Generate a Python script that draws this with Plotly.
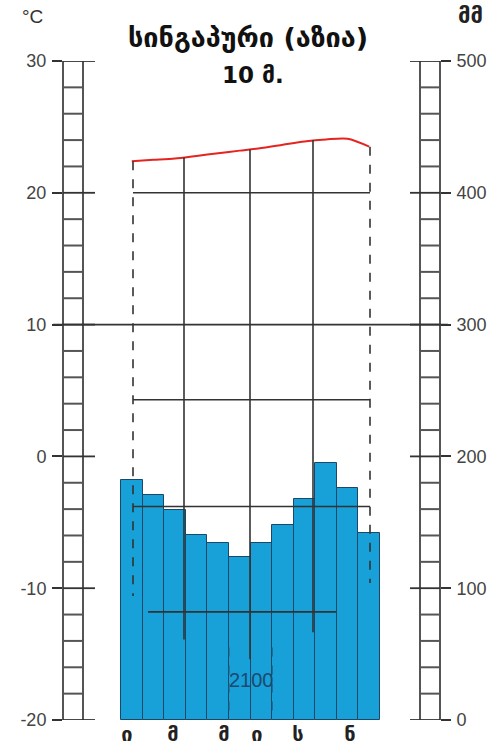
import plotly.graph_objects as go

# ---- data ----
month_index = [1, 2, 3, 4, 5, 6, 7, 8, 9, 10, 11, 12]
precip_mm = [182, 171, 159, 140, 134, 124, 134, 148, 168, 195, 176, 142]
temp_c = [22.4, 22.5, 22.6, 22.8, 23.0, 23.2, 23.4, 23.65, 23.9, 24.05, 24.1, 23.5]
month_labels = ["ი", "მ", "მ", "ი", "ს", "ნ"]
temp_ticks = [-20, -10, 0, 10, 20, 30]
precip_ticks = [0, 100, 200, 300, 400, 500]
title_line1 = "სინგაპური (აზია)"
title_line2 = "10 მ."
total_label = "2100"

# ---- layout geometry ----
W, H = 504, 746
L_PX, R_PX = 63, 440
T_PX, B_PX = 61, 720
PXU = 21.583  # px per month unit
X0 = 0.5 - (121 - L_PX) / PXU
X1 = 0.5 + (R_PX - 121) / PXU


def px2x(px):
    return 0.5 + (px - 121) / PXU


def px2paper(px):
    return (px - L_PX) / (R_PX - L_PX)


def py2paper(py):
    return (B_PX - py) / (B_PX - T_PX)


LINE = "#333333"
LADDER = "#555555"

fig = go.Figure()

fig.add_trace(go.Bar(
    x=month_index, y=precip_mm, width=1, yaxis="y2",
    marker=dict(color="#18a0d8", line=dict(color="#1d4766", width=1)),
    showlegend=False, hoverinfo="skip",
))

fig.add_trace(go.Scatter(
    x=month_index, y=temp_c, mode="lines", yaxis="y",
    line=dict(color="#e52421", width=2, shape="spline", smoothing=0.8),
    showlegend=False, hoverinfo="skip",
))

shapes = []


def seg(x0, y0, x1, y1, xref="x", yref="y", color=LINE, width=1.6, dash="solid"):
    shapes.append(dict(type="line", xref=xref, yref=yref, x0=x0, y0=y0, x1=x1, y1=y1,
                       line=dict(color=color, width=width, dash=dash), layer="above"))


# ladders
for px in (63, 83, 420, 440):
    seg(px2paper(px), -20, px2paper(px), 30, xref="paper", color=LADDER, width=2)
for t in range(-20, 31, 2):
    if t % 10 == 0:
        seg(px2paper(63), t, px2paper(95), t, xref="paper", color=LINE, width=1.8)
        seg(px2paper(410), t, px2paper(440), t, xref="paper", color=LINE, width=1.8)
    else:
        seg(px2paper(63), t, px2paper(83), t, xref="paper", color=LADDER, width=2)
        seg(px2paper(420), t, px2paper(440), t, xref="paper", color=LADDER, width=2)

# structural lines of the diagram
xl, xr = px2x(133), px2x(370)
seg(px2paper(53), 10, px2paper(448), 10, xref="paper", width=1.6)
for yv in (20, 4.3, -3.8):
    seg(xl, yv, xr, yv)
seg(px2x(148), -11.8, px2x(336), -11.8)
seg(xl, 22.4, xl, -10.6, dash="dash", width=1.6)
seg(xr, 23.5, xr, -9.6, dash="dash", width=1.6)
seg(px2x(184), 22.7, px2x(184), -13.9)
seg(px2x(250), 23.3, px2x(250), -15.4)
seg(px2x(313), 24.0, px2x(313), -13.35)
seg(5.5, -14.5, 5.5, -20, dash="dash", width=1.2, color="#24587a")
seg(7.5, -14.5, 7.5, -20, dash="dash", width=1.2, color="#24587a")

annotations = [
    dict(text=total_label, x=px2x(251), y=-17.0, xref="x", yref="y", showarrow=False,
         font=dict(family="Liberation Sans, Arial", size=20, color="#1b4a70")),
    dict(text=title_line1, x=px2paper(248), y=py2paper(37), xref="paper",
         yref="paper", showarrow=False, xanchor="center", yanchor="middle",
         font=dict(family="DejaVu Sans", size=27, color="#111111", weight="bold")),
    dict(text=title_line2, x=px2paper(253), y=py2paper(75), xref="paper",
         yref="paper", showarrow=False, xanchor="center", yanchor="middle",
         font=dict(family="DejaVu Sans", size=23, color="#111111", weight="bold")),
    dict(text="°C", x=px2paper(32), y=py2paper(16), xref="paper",
         yref="paper", showarrow=False, xanchor="center", yanchor="middle",
         font=dict(family="Liberation Sans, Arial", size=19, color="#333333")),
    dict(text="მმ", x=px2paper(470), y=py2paper(15), xref="paper",
         yref="paper", showarrow=False, xanchor="center", yanchor="middle",
         font=dict(family="DejaVu Sans", size=22, color="#222222", weight="bold")),
]

label_pos = [px2x(p) for p in (127, 173, 224, 257, 298, 350)]

fig.update_layout(
    width=W, height=H,
    margin=dict(l=L_PX, r=W - R_PX, t=T_PX, b=H - B_PX, pad=0, autoexpand=False),
    paper_bgcolor="white", plot_bgcolor="white",
    bargap=0,
    xaxis=dict(range=[X0, X1], showgrid=False, zeroline=False, showline=False,
               automargin=False,
               tickmode="array", tickvals=label_pos, ticktext=month_labels, ticks="",
               ticklabelstandoff=0,
               tickfont=dict(family="DejaVu Sans", size=20, color="#222222", weight="bold"),
               fixedrange=True),
    yaxis=dict(range=[-20, 30], tickmode="array", tickvals=temp_ticks,
               ticktext=[str(v) for v in temp_ticks], automargin=False,
               showgrid=False, zeroline=False,
               showline=False, ticks="outside", ticklen=10, tickwidth=1.8, tickcolor=LINE,
               ticklabelstandoff=2,
               tickfont=dict(family="Liberation Sans, Arial", size=18, color="#444444")),
    yaxis2=dict(range=[0, 500], tickmode="array", tickvals=precip_ticks,
                ticktext=[str(v) for v in precip_ticks], overlaying="y", side="right",
                automargin=False,
                showgrid=False, zeroline=False, showline=False, ticks="outside",
                ticklen=10, tickwidth=1.8, tickcolor=LINE, ticklabelstandoff=2,
                tickfont=dict(family="Liberation Sans, Arial", size=18, color="#444444")),
    shapes=shapes,
    annotations=annotations,
)

fig.write_html(
    "out.html",
    config={"displayModeBar": False},
    post_script="document.body.style.margin='0';document.body.style.overflow='hidden';",
)
